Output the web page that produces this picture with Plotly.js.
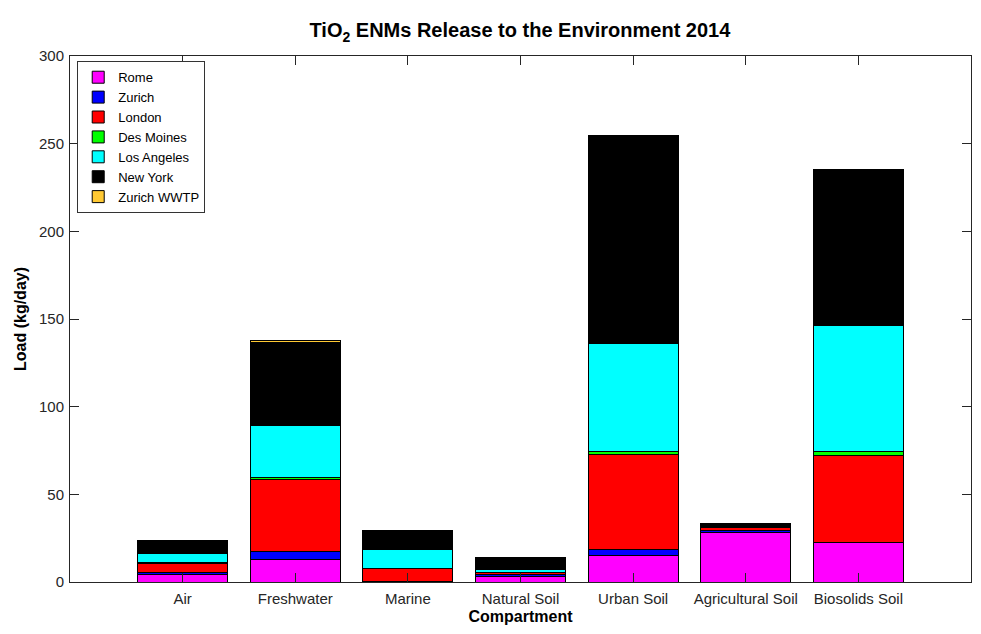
<!DOCTYPE html>
<html>
<head>
<meta charset="utf-8">
<script src="https://cdn.plot.ly/plotly-3.0.1.min.js"></script>
<style>html,body{margin:0;padding:0;background:#fff;}#chart{width:981px;height:634px;}</style>
</head>
<body>
<div id="chart"></div>
<script>
const categories = ["Air", "Freshwater", "Marine", "Natural Soil", "Urban Soil", "Agricultural Soil", "Biosolids Soil"];
const rome       = [4.5, 12.9, 0.2, 3.0, 15.0, 28.5, 22.6];
const zurich     = [0.8, 4.6, 0.1, 1.5, 3.3, 1.0, 0.1];
const london     = [5.5, 41.1, 7.4, 0.8, 54.7, 1.5, 49.4];
const desMoines  = [0.2, 1.1, 0.1, 0.3, 1.7, 0.5, 2.3];
const losAngeles = [5.0, 29.7, 10.7, 1.5, 61.4, 0.2, 71.9];
const newYork    = [7.3, 47.1, 10.6, 6.3, 118.3, 1.5, 88.4];
const zurichWWTP = [0.2, 1.1, 0.2, 0.3, 0.3, 0.3, 0.5];
const seriesNames = ["Rome", "Zurich", "London", "Des Moines", "Los Angeles", "New York", "Zurich WWTP"];
const seriesValues = [rome, zurich, london, desMoines, losAngeles, newYork, zurichWWTP];
const seriesColors = ["#FF00FF", "#0000FF", "#FF0000", "#00FF00", "#00FFFF", "#000000", "#FFC933"];
const yTicks = [0, 50, 100, 150, 200, 250, 300];

const traces = seriesNames.map((name, i) => ({
  type: "bar",
  name: name,
  x: categories,
  y: seriesValues[i],
  marker: {color: seriesColors[i], line: {color: "#000000", width: 1}},
  hoverinfo: "name+y"
}));

const font = {family: "Liberation Sans, Arial, sans-serif", color: "#262626"};
const layout = {
  width: 981, height: 634,
  margin: {l: 70, r: 10, t: 56, b: 52},
  barmode: "stack",
  bargap: 0.2,
  paper_bgcolor: "#ffffff",
  plot_bgcolor: "#ffffff",
  font: Object.assign({size: 15}, font),
  title: {
    text: "TiO<sub>2</sub> ENMs Release to the Environment 2014",
    font: {family: font.family, size: 20, color: "#000000", weight: "bold"},
    x: 0.53, xanchor: "center", y: 0.952, yanchor: "middle"
  },
  xaxis: {
    type: "category",
    range: [-1, 7],
    title: {text: "Compartment", font: {family: font.family, size: 16, color: "#000000", weight: "bold"}, standoff: 4},
    ticks: "inside", ticklen: 9, tickcolor: "#262626", tickwidth: 1,
    ticklabelstandoff: 3,
    showline: true, linecolor: "#262626", linewidth: 1, mirror: "ticks",
    showgrid: false, zeroline: false,
    tickfont: {family: font.family, size: 15, color: "#262626"}
  },
  yaxis: {
    range: [0, 300],
    tickvals: yTicks,
    ticktext: yTicks.map(String),
    title: {text: "Load (kg/day)", font: {family: font.family, size: 16, color: "#000000", weight: "bold"}, standoff: 8},
    ticks: "inside", ticklen: 9, tickcolor: "#262626", tickwidth: 1,
    ticklabelstandoff: 2,
    showline: true, linecolor: "#262626", linewidth: 1, mirror: "ticks",
    showgrid: false, zeroline: false,
    tickfont: {family: font.family, size: 15, color: "#262626"}
  },
  legend: {
    x: 0.008, y: 0.99, xanchor: "left", yanchor: "top",
    traceorder: "normal",
    bgcolor: "#ffffff", bordercolor: "#333333", borderwidth: 1,
    font: {family: font.family, size: 13, color: "#000000"},
    itemwidth: 30,
    tracegroupgap: 0
  },
  showlegend: true
};

Plotly.newPlot("chart", traces, layout, {displayModeBar: false, staticPlot: true});
</script>
</body>
</html>
